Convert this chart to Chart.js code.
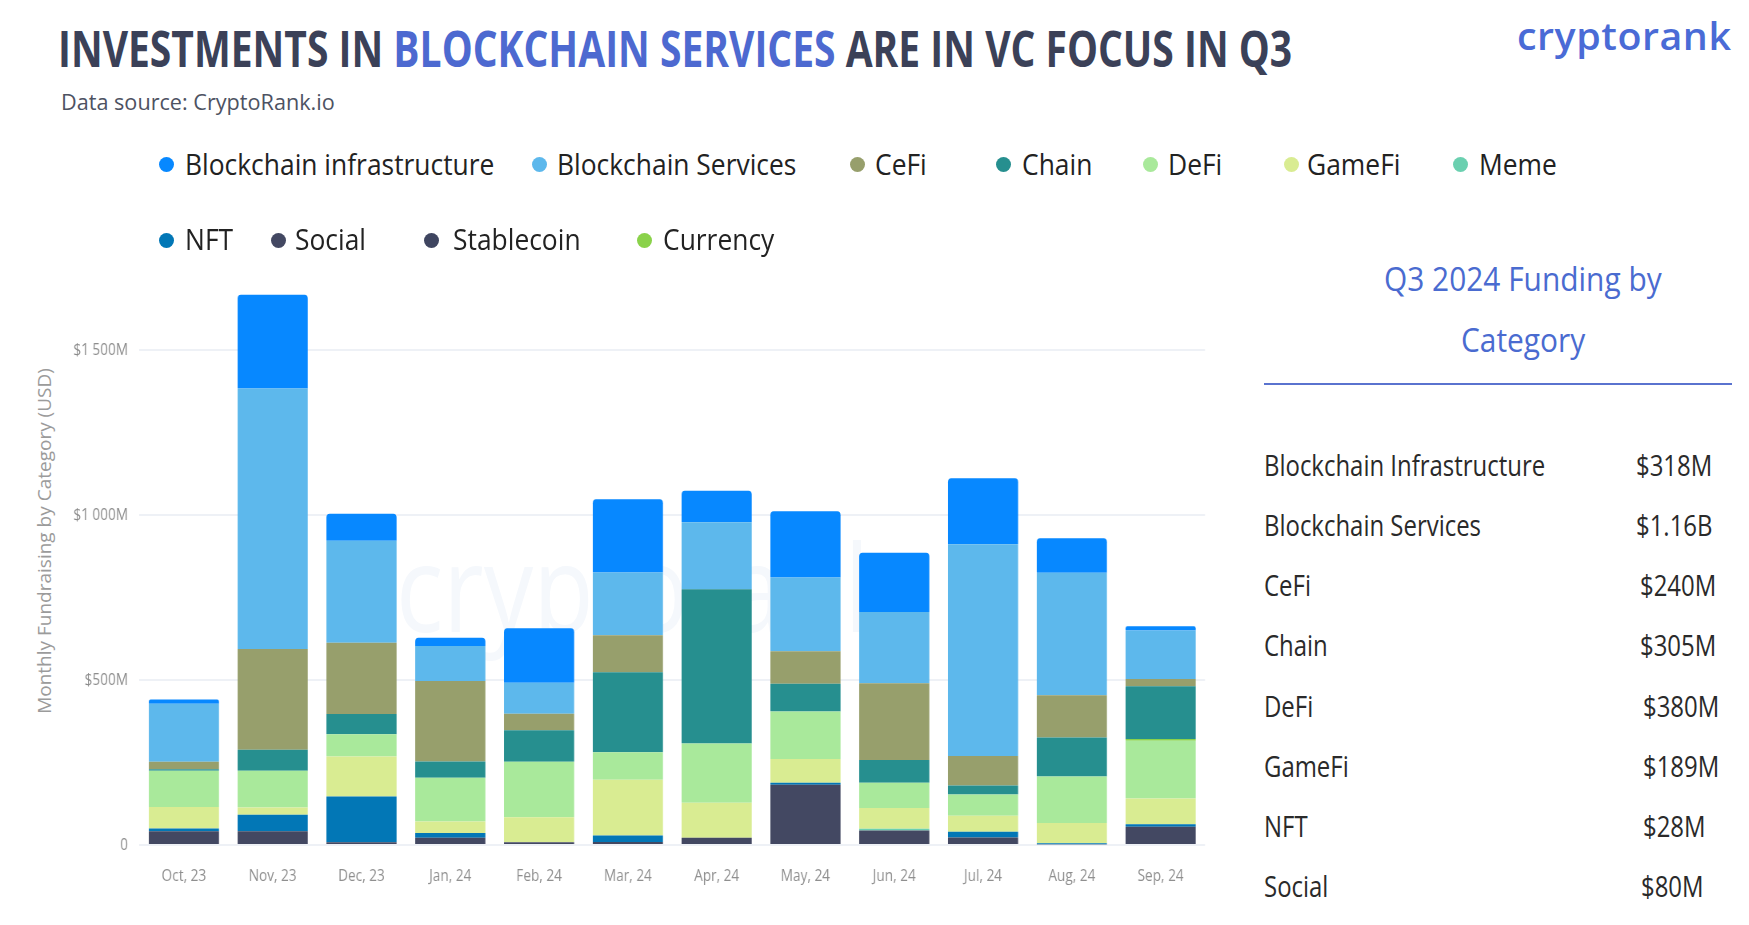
<!DOCTYPE html>
<html>
<head>
<meta charset="utf-8">
<title>Investments in Blockchain Services</title>
<script src="https://cdn.jsdelivr.net/npm/chart.js@4.4.0/dist/chart.umd.min.js"></script>
<style>
  html, body { margin: 0; padding: 0; background: #fff; overflow: hidden; }
  body { width: 1749px; height: 925px; position: relative; font-family: 'Open Sans', 'Noto Sans', sans-serif; }
  .abs { position: absolute; white-space: nowrap; line-height: 1; transform-origin: 0 0; }
  #title { font-weight: 700; }
  #source { color: #4d5262; }
  #logo { color: #4a6bd6; font-weight: 600; letter-spacing: 0.5px; }
  #watermark { color: #f5f8fc; font-weight: 400; z-index: 0; }
  #yTitle { position: absolute; left: 43.5px; top: 541px; white-space: nowrap; line-height: 1;
            font-size: 19px; color: #9b9b9b; transform: translate(-50%, -50%) rotate(-90deg); }
  #chartBox { position: absolute; left: 0; top: 220px; width: 1520px; height: 675px;
              transform: scaleX(0.8); transform-origin: 0 0; z-index: 1; }
  .dot { position: absolute; width: 15px; height: 15px; border-radius: 50%; z-index: 2; }
  .leg { color: #222; z-index: 2; }
  .ptitle { color: #4a6bd0; }
  .prow { color: #2a2a2a; }
  #rule { position: absolute; left: 1264px; top: 383px; width: 468px; height: 1.5px; background: #5a73cf; }
</style>
</head>
<body>
<div id="title" class="abs"><span style="color:#3b4158">INVESTMENTS IN </span><span style="color:#4d69d0">BLOCKCHAIN SERVICES</span><span style="color:#3b4158"> ARE IN VC FOCUS IN Q3</span></div>
<div id="source" class="abs">Data source: CryptoRank.io</div>
<div id="logo" class="abs">cryptorank</div>
<div id="watermark" class="abs">cryptorank</div>
<div id="yTitle">Monthly Fundraising by Category (USD)</div>
<div id="chartBox"><canvas id="chart" width="1520" height="675"></canvas></div>
<div id="rule"></div>

<script>
// monthly fundraising by category, $M
const months = ['Oct, 23', 'Nov, 23', 'Dec, 23', 'Jan, 24', 'Feb, 24', 'Mar, 24',
                'Apr, 24', 'May, 24', 'Jun, 24', 'Jul, 24', 'Aug, 24', 'Sep, 24'];

const infraVals      = [13, 284, 82, 25, 165, 222, 96, 201, 180, 200, 105, 13];
const servicesVals   = [176, 790, 309, 106, 94, 190, 203, 224, 216, 642, 371, 147];
const cefiVals       = [22, 305, 216, 244, 50, 112, 0, 98, 232, 90, 128, 22];
const chainVals      = [5, 64, 61, 49, 96, 243, 467, 84, 69, 27, 118, 160];
const defiVals       = [110, 111, 68, 133, 168, 83, 180, 144, 77, 64, 141, 175];
const gamefiVals     = [65, 22, 121, 35, 76, 169, 106, 72, 63, 49, 62, 78];
const memeVals       = [0, 0, 0, 0, 0, 0, 0, 0, 5, 0, 0, 0];
const nftVals        = [8, 50, 139, 14, 0, 20, 0, 6, 0, 17, 3, 8];
const socialVals     = [42, 42, 8, 22, 8, 9, 22, 183, 44, 23, 2, 55];
const stablecoinVals = [0, 0, 0, 0, 0, 0, 0, 0, 0, 0, 0, 0];
const currencyVals   = [0, 0, 0, 0, 0, 0, 0, 0, 0, 0, 0, 5];

const seriesNames  = ['Blockchain infrastructure', 'Blockchain Services', 'CeFi', 'Chain', 'DeFi',
                      'GameFi', 'Meme', 'NFT', 'Social', 'Stablecoin', 'Currency'];
const seriesColors = ['#0788ff', '#5db8ec', '#979f6c', '#268f8f', '#a9e99b',
                      '#d9ec92', '#6bd0b0', '#0277b6', '#434862', '#3f4560', '#8ad24a'];
const seriesValues = [infraVals, servicesVals, cefiVals, chainVals, defiVals,
                      gamefiVals, memeVals, nftVals, socialVals, stablecoinVals, currencyVals];
// stacking from the bottom up (indices into seriesNames)
const stackOrder = [9, 8, 7, 6, 5, 4, 10, 3, 2, 1, 0];

const yTickValues = [0, 500, 1000, 1500];
const yMax = 1820;

// Q3 side panel
const panelLabels = ['Blockchain Infrastructure', 'Blockchain Services', 'CeFi', 'Chain',
                     'DeFi', 'GameFi', 'NFT', 'Social'];
const panelValues = ['$318M', '$1.16B', '$240M', '$305M', '$380M', '$189M', '$28M', '$80M'];

// layout (page pixels)
const legendDotX  = [166.5, 539, 857, 1003, 1150, 1291, 1460, 166.5, 278, 431, 644];
const legendTextX = [185, 557, 874.5, 1022, 1168, 1307, 1479, 185, 294.5, 453, 663];
const legendRowY  = [164.5, 164.5, 164.5, 164.5, 164.5, 164.5, 164.5, 240, 240, 240, 240];
const panelValueX = [1636, 1636, 1640, 1640, 1643, 1643, 1643, 1641];

// place a one-line text so its cap middle sits at cy, squeezed to a target width
function placeText(el, left, cy, fs, targetW) {
  el.style.fontSize = fs + 'px';
  el.style.left = left + 'px';
  el.style.top = (cy - 0.531 * fs) + 'px';
  const s = targetW ? targetW / el.offsetWidth : 1;
  el.style.transform = 'scaleX(' + s + ')';
  return s;
}
function makeText(cls, txt) {
  const el = document.createElement('div');
  el.className = 'abs ' + cls;
  el.textContent = txt;
  document.body.appendChild(el);
  return el;
}

placeText(document.getElementById('title'), 58, 50, 50, 1234);
placeText(document.getElementById('source'), 61, 103.5, 21, 274);
const logo = document.getElementById('logo');
logo.style.fontSize = '37px';
logo.style.left = '1517px';
logo.style.top = (40 - 0.62 * 37) + 'px';
logo.style.transform = 'scaleX(' + (215 / logo.offsetWidth) + ')';
const wm = document.getElementById('watermark');
wm.style.fontSize = '120px';
wm.style.left = '396px';
wm.style.top = (600 - 0.62 * 120) + 'px';
wm.style.transform = 'scaleX(' + (500 / wm.offsetWidth) + ')';

// legend
seriesNames.forEach((name, i) => {
  const dot = document.createElement('div');
  dot.className = 'dot';
  dot.style.background = seriesColors[i];
  dot.style.left = (legendDotX[i] - 7.5) + 'px';
  dot.style.top = (legendRowY[i] - 7.5) + 'px';
  document.body.appendChild(dot);
  const t = makeText('leg', name);
  placeText(t, legendTextX[i], legendRowY[i], 29.5);
  t.style.transform = 'scaleX(0.895)';
});

// side panel
const pt1 = makeText('ptitle', 'Q3 2024 Funding by');
const pt2 = makeText('ptitle', 'Category');
const ps = placeText(pt1, 0, 280, 33, 278);
pt1.style.left = (1523 - pt1.offsetWidth * ps / 2) + 'px';
placeText(pt2, 0, 340.5, 33);
pt2.style.transform = 'scaleX(' + ps + ')';
pt2.style.left = (1523 - pt2.offsetWidth * ps / 2) + 'px';

let rowScale = 1;
panelLabels.forEach((lab, i) => {
  const cy = 466.5 + i * 60.2;
  const l = makeText('prow', lab);
  if (i === 0) rowScale = placeText(l, 1264, cy, 29.4, 281);
  else { placeText(l, 1264, cy, 29.4); l.style.transform = 'scaleX(' + rowScale + ')'; }
  const v = makeText('prow', panelValues[i]);
  placeText(v, panelValueX[i], cy, 29.4);
  v.style.transform = 'scaleX(' + rowScale + ')';
});

// chart
Chart.defaults.font.family = "'Open Sans', 'Noto Sans', sans-serif";

// topmost non-empty segment per month gets the rounded top
const topDs = months.map((m, j) => {
  let top = -1;
  stackOrder.forEach((si, k) => { if (seriesValues[si][j] > 0) top = k; });
  return top;
});

const datasets = stackOrder.map(si => ({
  label: seriesNames[si],
  data: seriesValues[si],
  backgroundColor: seriesColors[si],
  stack: 'all',
  barPercentage: 0.79,
  categoryPercentage: 1,
  borderSkipped: 'start',
  borderRadius: ctx => ctx.datasetIndex === topDs[ctx.dataIndex]
    ? { topLeft: 4, topRight: 4, bottomLeft: 0, bottomRight: 0 } : 0
}));

function fmtTick(v) {
  if (v === 0) return '0';
  return '$' + String(v).replace(/\B(?=(\d{3})+(?!\d))/g, ' ') + 'M';
}

new Chart(document.getElementById('chart').getContext('2d'), {
  type: 'bar',
  data: { labels: months, datasets },
  options: {
    responsive: false,
    animation: false,
    layout: { padding: { top: 17.8, right: 13.7, bottom: 0, left: 0 } },
    plugins: { legend: { display: false }, tooltip: { enabled: false } },
    scales: {
      x: {
        stacked: true,
        grid: { display: false, drawTicks: false },
        border: { display: false },
        ticks: { color: '#8f8f8f', font: { size: 17 }, padding: 20.5, maxRotation: 0 },
        afterFit: scale => { scale.height = 50; }
      },
      y: {
        stacked: true,
        min: 0,
        max: yMax,
        afterBuildTicks: scale => { scale.ticks = yTickValues.map(v => ({ value: v })); },
        grid: { color: '#eef1f6', lineWidth: 2, drawTicks: false },
        border: { display: false },
        ticks: { color: '#8c8c8c', font: { size: 17 }, padding: 14.4, callback: v => fmtTick(v) },
        afterFit: scale => { scale.width = 174.4; }
      }
    }
  }
});
</script>
</body>
</html>
